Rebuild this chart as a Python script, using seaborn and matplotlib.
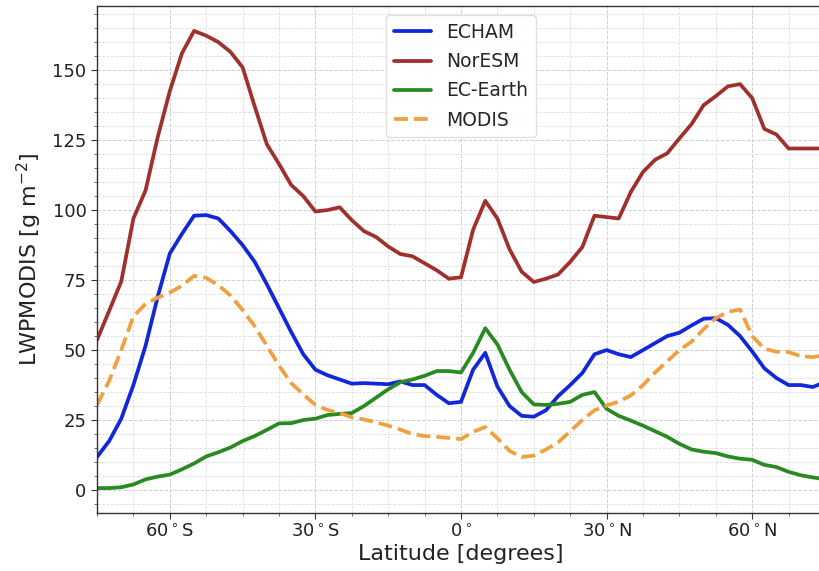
import numpy as np
import pandas as pd
import matplotlib
matplotlib.use("Agg")
import matplotlib.pyplot as plt
from matplotlib.ticker import MultipleLocator, FixedLocator
import seaborn as sns

lat = [-75, -72.5, -70, -67.5, -65, -62.5, -60, -57.5, -55, -52.5, -50, -47.5,
       -45, -42.5, -40, -37.5, -35, -32.5, -30, -27.5, -25, -22.5, -20, -17.5,
       -15, -12.5, -10, -7.5, -5, -2.5, 0, 2.5, 5, 7.5, 10, 12.5, 15, 17.5,
       20, 22.5, 25, 27.5, 30, 32.5, 35, 37.5, 40, 42.5, 45, 47.5, 50, 52.5,
       55, 57.5, 60, 62.5, 65, 67.5, 70, 72.5, 75]

echam = [11.8, 17.5, 25.5, 37.5, 51.5, 69, 84.5, 91.5, 98, 98.2, 97, 92.5,
         87.5, 81.5, 73.5, 65, 56.5, 48.5, 43, 41, 39.5, 38, 38.2, 38,
         37.8, 38.8, 37.5, 37.5, 34, 31, 31.5, 43, 49, 37, 30, 26.5, 26.2, 28.5,
         33.5, 37.5, 41.8, 48.5, 50, 48.5, 47.5, 50, 52.5, 55, 56.2, 58.8, 61.2, 61.4,
         59, 55, 49.5, 43.5, 40, 37.5, 37.5, 36.8, 38.6]

noresm = [53.6, 64, 74.5, 97, 107, 126, 142.5, 156, 164, 162.3, 160, 156.5,
          151, 137, 123.5, 116.5, 109, 105, 99.5, 100, 101, 96.4, 92.5, 90.4,
          87, 84.3, 83.5, 81, 78.5, 75.5, 76, 93, 103.3, 97, 86, 78, 74.3, 75.5,
          77, 81.5, 86.8, 98, 97.5, 97, 106.5, 113.6, 118, 120.3, 125.6, 130.7, 137.5, 140.7,
          144.2, 145, 140, 129, 127, 122, 122, 122, 122]

ecearth = [0.7, 0.7, 1.0, 2, 3.8, 4.8, 5.5, 7.4, 9.5, 12, 13.5, 15.2,
           17.5, 19.3, 21.5, 23.8, 23.9, 25, 25.5, 26.8, 27.2, 27.5, 30, 33,
           36, 38.5, 39.5, 40.8, 42.5, 42.5, 42, 49, 57.8, 52, 43, 35, 30.6, 30.4,
           30.8, 31.5, 34, 35, 29, 26.5, 24.8, 23, 21, 19, 16.5, 14.5, 13.7, 13.2,
           12, 11.2, 10.8, 9, 8.2, 6.5, 5.3, 4.5, 3.9]

modis = [30.4, 39, 50, 62, 66.5, 68.7, 70.5, 73, 76.5, 75.8, 73.2, 69.5,
         64.3, 58.5, 51.5, 44.5, 38.2, 34.2, 30.4, 28.6, 27.5, 26, 25.2, 24.2,
         23, 21.6, 20, 19.3, 19, 18.6, 18.2, 20.8, 22.5, 18.5, 14, 11.8, 12.3, 14.5,
         17, 21, 25, 28.5, 30.2, 31.6, 33.8, 37.5, 42, 46, 50, 53, 57.5, 61.4,
         63.6, 64.5, 55, 50.5, 49.4, 49.3, 47.8, 47.5, 48.2]

series_names = ["ECHAM", "NorESM", "EC-Earth", "MODIS"]
series_values = [echam, noresm, ecearth, modis]
colors = ["#1028d8", "#a0302c", "#2a8a22", "#f0a040"]
styles = ["-", "-", "-", "--"]

xtick_vals = [-60, -30, 0, 30, 60]
xtick_labels = [r"60$^\circ$S", r"30$^\circ$S", r"0$^\circ$", r"30$^\circ$N", r"60$^\circ$N"]

sns.set_style("ticks")
plt.rcParams["font.family"] = ["DejaVu Sans"]

fig = plt.figure(figsize=(8.2, 5.71), dpi=100)
ax = fig.add_axes([97 / 820, 1 - 513 / 571, (825 - 97) / 820, (513 - 6) / 571])

df = pd.DataFrame({"lat": lat * 4,
                   "value": sum(series_values, []),
                   "model": sum([[n] * len(lat) for n in series_names], [])})

for name, col, ls in zip(series_names, colors, styles):
    sub = df[df["model"] == name]
    sns.lineplot(data=sub, x="lat", y="value", color=col, linestyle=ls,
                 linewidth=2.7, label=name, ax=ax, sort=False)

ax.set_xlim(-75, 75)
ax.set_ylim(-8.2, 172.9)
ax.xaxis.set_major_locator(FixedLocator(xtick_vals))
ax.set_xticklabels(xtick_labels)
ax.xaxis.set_minor_locator(MultipleLocator(7.5))
ax.yaxis.set_major_locator(MultipleLocator(25))
ax.yaxis.set_minor_locator(MultipleLocator(5))

ax.grid(which="major", linestyle="--", color="#cfcfcf", linewidth=0.7)
ax.grid(which="minor", linestyle="--", color="#dedede", linewidth=0.6)
ax.set_axisbelow(True)

ax.tick_params(axis="both", which="major", labelsize=13, length=4, color="#333333", labelcolor="#222222")
ax.tick_params(axis="both", which="minor", length=2.5, color="#555555")
for s in ax.spines.values():
    s.set_color("#333333")
    s.set_linewidth(1.0)

ax.set_xlabel("Latitude [degrees]", fontsize=16, color="#222222", labelpad=2)
ax.set_ylabel(r"LWPMODIS [g m$^{-2}$]", fontsize=16, color="#222222", labelpad=6)

leg = ax.legend(loc="upper center", fontsize=13.5, frameon=True, handlelength=2.0,
                borderaxespad=0.5, labelspacing=0.55, handletextpad=0.8)
leg.get_frame().set_edgecolor("#dddddd")
leg.get_frame().set_alpha(0.9)

fig.savefig("out.png", dpi=100)
